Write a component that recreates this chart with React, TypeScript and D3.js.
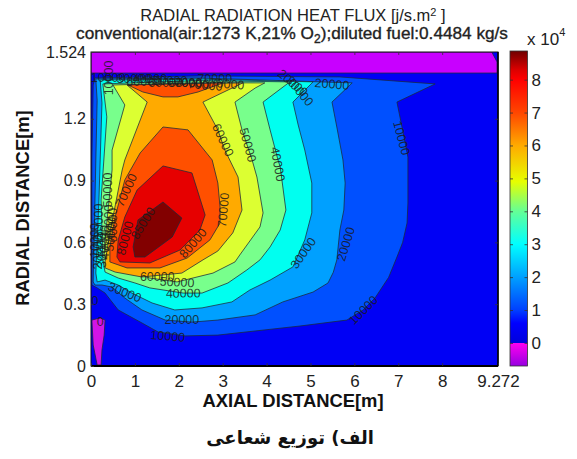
import React, { useEffect, useRef } from "react";
import * as d3 from "d3";

type Pt = [number, number];

// contour regions: [axial m, radial m], painted from low to high
const wallStrip: Pt[] = [[0, 1.524], [9.13, 1.524], [9.25, 1.476], [9.25, 1.422], [0, 1.422]];
const inletPatch: Pt[] = [[0.02, 0.223], [0.21, 0.233], [0.32, 0.223], [0.3, 0.15], [0.25, 0.078], [0.23, 0.005], [0.14, 0.005], [0.05, 0.102]];
const level10: Pt[] = [[0.09, 1.398], [2.48, 1.408], [5.67, 1.403], [7.84, 1.369], [6.97, 1.281], [7.08, 1.165], [7.22, 1.014], [7.22, 0.791], [7.2, 0.694], [7.1, 0.6], [6.97, 0.529], [6.78, 0.43], [6.47, 0.33], [6.2, 0.272], [5.83, 0.223], [4.76, 0.194], [3.74, 0.17], [2.89, 0.15], [2.14, 0.146], [1.53, 0.165], [1.16, 0.209], [0.62, 0.272], [0.32, 0.354], [0.14, 0.379], [0.02, 0.393], [0.02, 1.0], [0.05, 1.364]];
const level20: Pt[] = [[0.11, 1.393], [2.48, 1.398], [5.95, 1.374], [5.49, 1.281], [5.6, 1.16], [5.74, 1.0], [5.79, 0.888], [5.76, 0.757], [5.67, 0.66], [5.6, 0.515], [5.52, 0.455], [5.4, 0.403], [5.06, 0.359], [4.37, 0.311], [3.74, 0.248], [2.89, 0.223], [2.3, 0.213], [1.69, 0.223], [1.16, 0.272], [0.77, 0.33], [0.48, 0.383], [0.25, 0.393], [0.09, 0.393], [0.05, 0.408], [0.09, 0.8], [0.14, 1.29]];
const level30: Pt[] = [[0.21, 1.388], [2.48, 1.393], [5.06, 1.379], [4.6, 1.281], [4.72, 1.17], [4.87, 1.048], [5.03, 0.888], [5.03, 0.743], [4.87, 0.612], [4.6, 0.481], [4.08, 0.417], [3.62, 0.369], [3.21, 0.311], [2.53, 0.282], [1.91, 0.272], [1.39, 0.306], [0.93, 0.354], [0.62, 0.393], [0.32, 0.417], [0.14, 0.408], [0.11, 0.451], [0.18, 0.8], [0.25, 1.277]];
const level40: Pt[] = [[0.27, 1.369], [2.48, 1.385], [4.53, 1.379], [3.92, 1.281], [4.08, 1.146], [4.26, 1.0], [4.31, 0.966], [4.44, 0.757], [4.31, 0.66], [4.08, 0.578], [3.85, 0.515], [3.55, 0.466], [3.12, 0.403], [2.53, 0.354], [2.1, 0.354], [1.34, 0.379], [1.0, 0.403], [0.62, 0.427], [0.32, 0.456], [0.27, 0.515], [0.23, 0.806], [0.36, 1.209]];
const level50: Pt[] = [[0.5, 1.364], [2.5, 1.375], [3.96, 1.374], [3.74, 1.349], [3.28, 1.281], [3.44, 1.146], [3.67, 1.0], [3.78, 0.917], [3.92, 0.743], [3.85, 0.675], [3.39, 0.539], [3.28, 0.505], [2.78, 0.451], [1.96, 0.408], [1.34, 0.427], [0.77, 0.466], [0.39, 0.505], [0.3, 0.539], [0.32, 0.612], [0.39, 0.757], [0.48, 0.951], [0.48, 1.048], [0.77, 1.267]];
const level60: Pt[] = [[0.82, 1.364], [3.46, 1.374], [2.55, 1.281], [2.89, 1.146], [3.05, 1.048], [3.35, 0.917], [3.44, 0.757], [3.23, 0.646], [2.89, 0.558], [2.55, 0.515], [2.07, 0.451], [1.16, 0.432], [0.55, 0.456], [0.32, 0.476], [0.32, 0.505], [0.43, 0.646], [0.71, 0.951], [0.77, 1.0], [1.28, 1.281]];
const level70Top: Pt[] = [[0.84, 1.364], [3.01, 1.374], [2.44, 1.33], [1.98, 1.306], [1.64, 1.306], [1.18, 1.33]];
const level70: Pt[] = [[1.64, 1.16], [2.21, 1.146], [2.76, 1.0], [2.89, 0.888], [2.94, 0.772], [2.94, 0.694], [2.71, 0.612], [2.19, 0.524], [1.57, 0.476], [0.82, 0.476], [0.43, 0.505], [0.43, 0.578], [0.55, 0.723], [0.77, 0.903], [1.12, 1.034]];
const level80: Pt[] = [[1.64, 0.971], [2.3, 0.937], [2.6, 0.733], [2.48, 0.66], [2.03, 0.563], [1.34, 0.5], [0.66, 0.505], [0.59, 0.529], [0.62, 0.612], [0.77, 0.723], [1.05, 0.854]];
const level85: Pt[] = [[1.64, 0.796], [2.07, 0.718], [1.85, 0.626], [1.23, 0.529], [1.0, 0.529], [0.96, 0.578], [1.07, 0.709], [1.39, 0.757]];

const regions: [Pt[], string][] = [
  [level10, "#0050ff"],
  [level20, "#00a0ff"],
  [level30, "#00fff0"],
  [level40, "#78ff8c"],
  [level50, "#dcff32"],
  [level60, "#ffaa00"],
  [level70Top, "#ff5000"],
  [level70, "#ff5000"],
  [level80, "#e60000"],
  [level85, "#820000"],
  [wallStrip, "#c800ff"],
  [inletPatch, "#d214e6"],
];

// contour labels: text, axial, radial, angle
const labelText = ["10000", "10000", "10000", "10000", "20000", "20000", "20000", "30000", "30000", "30000", "40000", "40000", "50000", "50000", "60000", "60000", "70000", "70000", "80000", "80000", "85000",
  "20000", "30000", "40000", "50000", "60000", "10000", "30000", "40000", "50000", "60000", "70000", "70000", "0", "0",
  "10000", "30000", "40000", "50000", "60000", "60000", "70000", "70000", "20000"];
const labelAxial = [1.75, 6.2, 7.08, 0.39, 2.07, 5.8, 5.49, 0.77, 4.83, 4.76, 2.1, 4.26, 1.96, 3.58, 1.51, 3.01, 0.8, 3.01, 0.77, 2.32, 1.18,
  0.14, 0.16, 0.39, 0.37, 0.48, 0.39, 0.98, 1.34, 1.8, 2.14, 2.6, 2.82, 0.21, 0.09,
  0.09, 0.25, 0.3, 0.44, 1.2, 1.7, 2.3, 3.1, 4.6];
const labelRadial = [0.146, 0.272, 1.107, 1.398, 0.228, 0.592, 1.369, 0.359, 0.549, 1.335, 0.354, 0.98, 0.408, 1.073, 0.432, 1.097, 0.854, 0.757, 0.621, 0.597, 0.694,
  0.553, 0.704, 0.699, 0.854, 0.684, 1.398, 1.393, 1.393, 1.388, 1.374, 1.364, 1.393, 0.214, 0.32,
  0.61, 0.56, 0.6, 0.64, 1.382, 1.378, 1.374, 1.37, 1.375];
const labelAngle = [5, -45, 75, -90, 0, -73, 5, 22, -55, 50, -1, 80, 3, 75, 0, 65, -65, -85, -75, -49, -58,
  -90, -90, -90, -90, -90, 0, 0, 0, 0, 0, 5, 0, 0, 0,
  -90, -90, -90, -85, 0, 0, 3, 5, 40];

const xTicks = [0, 1, 2, 3, 4, 5, 6, 7, 8, 9.272];
const yTicks = [0, 0.3, 0.6, 0.9, 1.2, 1.524];
const barTicks = [0, 1, 2, 3, 4, 5, 6, 7, 8];

// colour bar ramp, in units of 10^4
const barStops = [-0.7, -0.01, 0, 0.6, 1, 2, 3, 4, 4.9, 6, 7, 8, 8.3, 8.87];
const barColors = ["#9600e0", "#ff00f0", "#0000dc", "#0000ff", "#0040ff", "#00a0ff", "#00ffff", "#64ff96", "#e6ff00", "#ffaa00", "#ff4600", "#ff0000", "#dc0000", "#700000"];

const x = d3.scaleLinear().domain([0, 9.272]).range([91, 498]);
const y = d3.scaleLinear().domain([0, 1.524]).range([366, 52]);
const barY = d3.scaleLinear().domain([-0.7, 8.87]).range([366, 51]);
const barColor = d3.scaleLinear<string>().domain(barStops).range(barColors);

const outline = d3.line<Pt>().x((d) => x(d[0])).y((d) => y(d[1])).curve(d3.curveLinearClosed);

const sans = "'Liberation Sans', Arial, sans-serif";

export default function App() {
  const axesRef = useRef<SVGGElement>(null);

  useEffect(() => {
    const g = d3.select(axesRef.current);
    g.selectAll("*").remove();

    const dress = (size: number) => (sel: any) => {
      sel.select(".domain").remove();
      sel.selectAll("line").attr("stroke", "#333").attr("stroke-width", 0.8);
      sel.selectAll("text").attr("font-size", size).attr("font-family", sans).attr("fill", "#222");
    };

    g.append("g").attr("transform", "translate(0,366)")
      .call(d3.axisBottom(x).tickValues(xTicks).tickFormat((d) => String(d)).tickSizeInner(-3).tickPadding(9))
      .call(dress(17));
    g.append("g").attr("transform", "translate(0,52)")
      .call(d3.axisTop(x).tickValues(xTicks.slice(1, -1)).tickFormat(() => "").tickSizeInner(-3))
      .call(dress(17));
    g.append("g").attr("transform", "translate(91,0)")
      .call(d3.axisLeft(y).tickValues(yTicks).tickFormat((d) => String(d)).tickSizeInner(-3).tickPadding(5))
      .call(dress(16));
    g.append("g").attr("transform", "translate(498,0)")
      .call(d3.axisRight(y).tickValues(yTicks.slice(1, -1)).tickFormat(() => "").tickSizeInner(-3))
      .call(dress(16));
    g.append("g").attr("transform", "translate(527.5,0)")
      .call(d3.axisRight(barY).tickValues(barTicks).tickFormat((d) => String(d)).tickSizeInner(-3).tickPadding(4))
      .call(dress(17));
    g.append("g").attr("transform", "translate(510,0)")
      .call(d3.axisLeft(barY).tickValues(barTicks).tickFormat(() => "").tickSizeInner(-3))
      .call(dress(17));
  }, []);

  return (
    <svg width={577} height={459} style={{ position: "absolute", left: 0, top: 0, background: "#fff" }}>
      <defs>
        <linearGradient id="bar" x1="0" y1="1" x2="0" y2="0">
          {barStops.map((s, i) => (
            <stop key={i} offset={(s + 0.7) / 9.57} stopColor={barColor(s)} />
          ))}
        </linearGradient>
        <clipPath id="plot">
          <rect x={x(0)} y={y(1.524)} width={x(9.272) - x(0)} height={y(0) - y(1.524)} />
        </clipPath>
      </defs>

      <text x={293} y={21} textAnchor="middle" fontFamily={sans} fontSize={16.5} fill="#222">
        RADIAL RADIATION HEAT FLUX [j/s.m<tspan dy={-5} fontSize={11}>2</tspan><tspan dy={5}> ]</tspan>
      </text>
      <text x={292} y={39} textAnchor="middle" fontFamily={sans} fontSize={17.2} fill="#222" stroke="#222" strokeWidth={0.35}>
        conventional(air:1273 K,21% O<tspan dy={4} fontSize={12}>2</tspan><tspan dy={-4}>);diluted fuel:0.4484 kg/s</tspan>
      </text>

      <rect x={x(0)} y={y(1.524)} width={x(9.272) - x(0)} height={y(0) - y(1.524)} fill="#0000f5" />
      <g clipPath="url(#plot)">
        {regions.map(([pts, color], i) => (
          <path key={i} d={outline(pts) ?? ""} fill={color} stroke="#1a2a3a" strokeWidth={0.9} strokeOpacity={0.85} strokeLinejoin="round" />
        ))}
      </g>
      <g>
        {labelText.map((t, i) => (
          <text
            key={i}
            transform={`translate(${x(labelAxial[i])},${y(labelRadial[i])}) rotate(${labelAngle[i]})`}
            textAnchor="middle"
            dy="0.36em"
            fontFamily={sans}
            fontSize={12.5}
            fill="#1a1a1a"
            fillOpacity={0.85}
          >
            {t}
          </text>
        ))}
      </g>
      <rect x={x(0)} y={y(1.524)} width={x(9.272) - x(0)} height={y(0) - y(1.524)} fill="none" stroke="#111" strokeWidth={1} />
      <line x1={x(0)} x2={x(9.272)} y1={y(0)} y2={y(0)} stroke="#000" strokeWidth={2} />
      <line x1={x(9.272)} x2={x(9.272)} y1={y(0)} y2={y(1.524)} stroke="#000" strokeWidth={1.5} />

      <rect x={510} y={barY(8.87)} width={17.5} height={barY(-0.7) - barY(8.87)} fill="url(#bar)" stroke="#333" strokeWidth={0.8} />

      <g ref={axesRef} />

      <text x={527} y={45} fontFamily={sans} fontSize={17} fill="#222">x 10<tspan dy={-9} fontSize={11}>4</tspan></text>
      <text x={293} y={407} textAnchor="middle" fontFamily={sans} fontSize={18.4} fontWeight="bold" fill="#111">AXIAL DISTANCE[m]</text>
      <text transform="translate(29,208) rotate(-90)" textAnchor="middle" fontFamily={sans} fontSize={18.4} fontWeight="bold" fill="#111">RADIAL DISTANCE[m]</text>
      <text x={290} y={444} textAnchor="middle" direction="rtl" fontFamily="'DejaVu Sans', 'Noto Sans', sans-serif" fontSize={18} fontWeight="bold" fill="#111">الف) توزیع شعاعی</text>
    </svg>
  );
}
